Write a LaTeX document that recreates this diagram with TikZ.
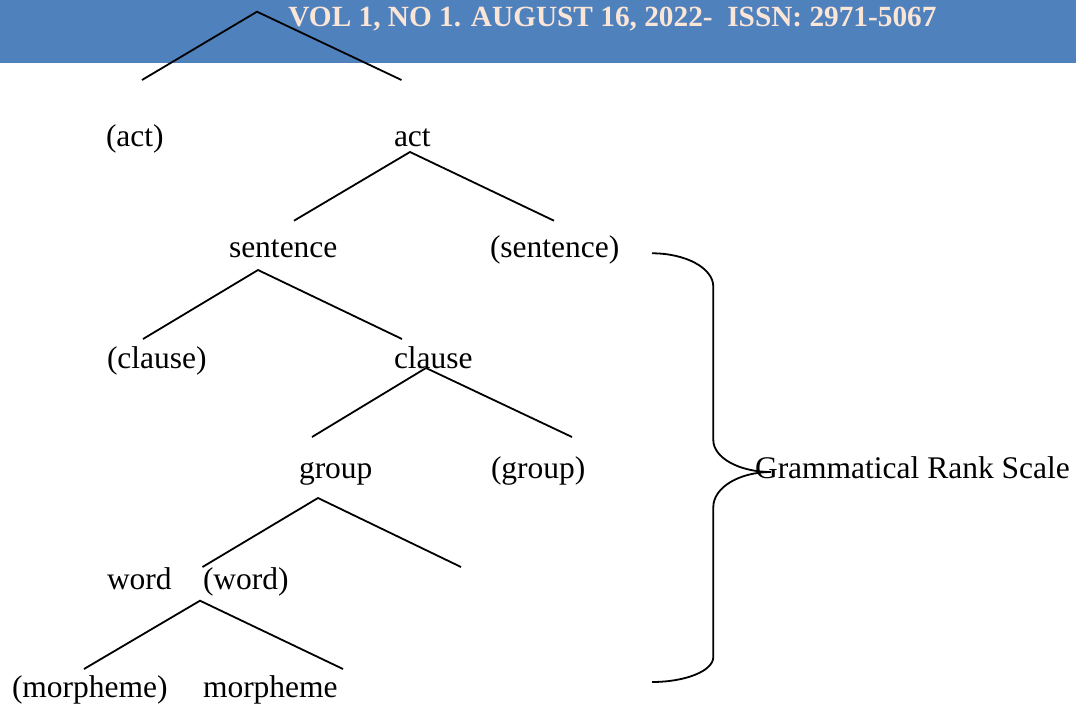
\documentclass[tikz,border=0pt]{standalone}
\usepackage{fontspec}
\setmainfont{Liberation Serif}
\definecolor{bandblue}{RGB}{79,129,189}
\definecolor{cream}{RGB}{251,229,214}
\begin{document}
\begin{tikzpicture}[x=0.5pt,y=-0.5pt,
  lbl/.style={anchor=base west,inner sep=0pt,outer sep=0pt,font=\fontsize{15.75}{18}\selectfont},
  headtxt/.style={anchor=base west,inner sep=0pt,text=cream,font=\fontsize{14.65}{17}\selectfont\bfseries},
  branch/.style={line width=0.9pt},
  bracestyle/.style={line width=0.9pt}]
\useasboundingbox (0,0) rectangle (1076,706);
% header band
\fill[bandblue] (0,0) rectangle (1076,62.7);
\node[headtxt] (head) at (288,26.7) {VOL 1, NO 1. AUGUST 16, 2022-\ \ ISSN: 2971-5067};

% labels
\node[lbl] (actp)    at (106,147) {(act)};
\node[lbl] (act)     at (394,147) {act};
\node[lbl] (sent)    at (229,257) {sentence};
\node[lbl] (sentp)   at (490,257) {(sentence)};
\node[lbl] (clausep) at (107,368) {(clause)};
\node[lbl] (clause)  at (394,368) {clause};
\node[lbl] (group)   at (299,478) {group};
\node[lbl] (groupp)  at (491,478) {(group)};
\node[lbl] (word)    at (107,589) {word};
\node[lbl] (wordp)   at (203,589) {(word)};
\node[lbl] (morphp)  at (12,697) {(morpheme)};
\node[lbl] (morph)   at (203,697) {morpheme};
\node[lbl] (grs)     at (755,478) {Grammatical Rank Scale};

% branch points
\coordinate (a0) at (257,11.7);
\coordinate (a0l) at (142,80);
\coordinate (a0r) at (401.5,80);
\coordinate (a1) at (410,152);
\coordinate (a1l) at (294,220.7);
\coordinate (a1r) at (554,220.7);
\coordinate (a2) at (258,270);
\coordinate (a2l) at (143,339);
\coordinate (a2r) at (402,339);
\coordinate (a3) at (426,368);
\coordinate (a3l) at (312,437);
\coordinate (a3r) at (572,437);
\coordinate (a4) at (318,498);
\coordinate (a4l) at (202.5,567);
\coordinate (a4r) at (461,567);
\coordinate (a5) at (200,600.7);
\coordinate (a5l) at (84,669);
\coordinate (a5r) at (343,669);

\draw[branch] (a0l) -- (a0) -- (a0r);
\draw[branch] (a1l) -- (a1) -- (a1r);
\draw[branch] (a2l) -- (a2) -- (a2r);
\draw[branch] (a3l) -- (a3) -- (a3r);
\draw[branch] (a4l) -- (a4) -- (a4r);
\draw[branch] (a5l) -- (a5) -- (a5r);

% brace
\coordinate (btop) at (652,253.3);
\coordinate (btip) at (771,472);
\coordinate (bbot) at (652,682);
\draw[bracestyle] (btop) .. controls (685.7,253.3) and (713.3,268) .. (713.3,286.7)
  -- (713.3,440) .. controls (713.3,457.7) and (739,472) .. (btip)
  .. controls (739,472) and (713.3,487.7) .. (713.3,507)
  -- (713.3,657) .. controls (713.3,670.8) and (685.7,682) .. (bbot);
\end{tikzpicture}
\end{document}
